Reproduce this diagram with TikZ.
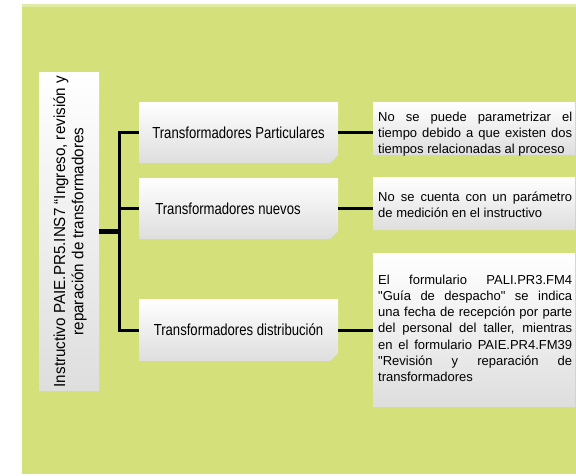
\documentclass[tikz,border=0pt]{standalone}
\usepackage{fontspec}
\setmainfont{Liberation Sans}[Ligatures=TeXOff]
\newfontfamily\midfont{Liberation Sans}[FakeStretch=0.82]
\newfontfamily\leftboxfont{Liberation Sans}[FakeStretch=0.95]
\usetikzlibrary{shapes.misc}
\definecolor{bggreen}{RGB}{212,225,122}
\begin{document}
\begin{tikzpicture}[x=1pt,y=-1pt,
  box/.style={chamfered rectangle, chamfered rectangle corners=south east,
    chamfered rectangle xsep=4pt, chamfered rectangle ysep=4pt,
    top color=white, middle color=white, bottom color=black!13,
    inner sep=0pt, draw=none},
  midtext/.style={font=\midfont\fontsize{16}{19}\selectfont},
  link/.style={line width=3pt},
  mainlink/.style={line width=4.5pt},
  righttext/.style={anchor=base west, inner sep=0pt},
]
\useasboundingbox (0,0) rectangle (576,475);
\fill[bggreen] (22,4) rectangle (576,474);
\fill[bggreen!70!white] (22,4) rectangle (576,7);

% left box
\node[box, minimum width=60pt, minimum height=319pt] (main) at (69,231.5) {};
\node[rotate=90, align=center, inner sep=0pt,
      font=\leftboxfont\fontsize{16}{18.3}\selectfont] (maintext) at (70,231.5)
  {Instructivo PAIE.PR5.INS7 “Ingreso, revisión y\\reparación de transformadores};

% middle boxes
\node[box, midtext, minimum width=199pt, minimum height=61pt] (m1) at (238.5,132.5) {Transformadores Particulares};
\node[box, midtext, minimum width=199pt, minimum height=61pt] (m2) at (238.5,208.5) {Transformadores nuevos\hspace*{21pt}};
\node[box, midtext, minimum width=199pt, minimum height=62pt] (m3) at (238.5,330) {Transformadores distribución};

% right boxes
\node[box, minimum width=202pt, minimum height=53pt] (r1) at (474,128.5) {};
\node[box, minimum width=202pt, minimum height=53pt] (r2) at (474,203.5) {};
\node[box, minimum width=202pt, minimum height=154pt] (r3) at (474,330) {};

\node[righttext] (t1) at (378,121) {\parbox[t]{194pt}{\fontsize{13}{16}\selectfont\hyphenpenalty=10000
  No se puede parametrizar el\linebreak tiempo debido a que existen dos\linebreak tiempos relacionadas al proceso}};
\node[righttext] (t2) at (378,201.7) {\parbox[t]{194pt}{\fontsize{13}{16}\selectfont\hyphenpenalty=10000
  No se cuenta con un parámetro\linebreak de medición en el instructivo}};
\node[righttext] (t3) at (378,284.3) {\parbox[t]{194pt}{\fontsize{13}{16.2}\selectfont\hyphenpenalty=10000
  El formulario PALI.PR3.FM4\linebreak "Guía de despacho" se indica\linebreak una fecha de recepción por parte\linebreak del personal del taller, mientras\linebreak en el formulario PAIE.PR4.FM39\linebreak "Revisión y reparación de\linebreak transformadores}};

% connectors
\coordinate (j) at (119,232);
\draw[mainlink] (main.east) -- (main.east -| j);
\draw[link] (m1.west) -| (j |- m3.west) -- (m3.west);
\draw[link] (m2.west) -- (m2.west -| j);
\draw[link] (m1.east) -- (m1.east -| r1.west);
\draw[link] (m2.east) -- (m2.east -| r2.west);
\draw[link] (m3.east) -- (m3.east -| r3.west);
\end{tikzpicture}
\end{document}
